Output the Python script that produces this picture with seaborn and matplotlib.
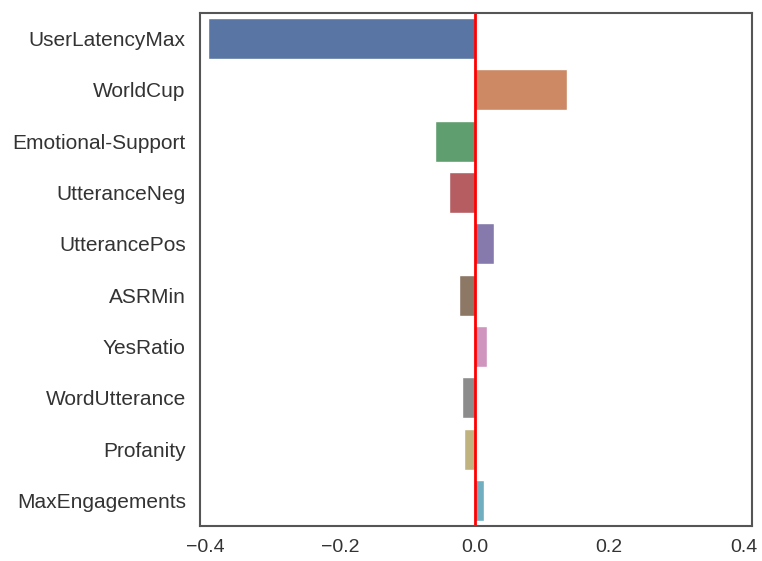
import matplotlib
matplotlib.use("Agg")
import matplotlib.pyplot as plt
import seaborn as sns
import pandas as pd

features = ["UserLatencyMax", "WorldCup", "Emotional-Support", "UtteranceNeg",
            "UtterancePos", "ASRMin", "YesRatio", "WordUtterance", "Profanity",
            "MaxEngagements"]
coefs = [-0.396, 0.138, -0.058, -0.038, 0.029, -0.023, 0.019, -0.018, -0.015, 0.014]

df = pd.DataFrame({"feature": features, "coef": coefs})

sns.set_theme(style="white")
plt.rcParams["font.family"] = ["Liberation Sans", "DejaVu Sans"]

fig = plt.figure(figsize=(7.62, 5.61), dpi=100)
ax = fig.add_axes([0.262, 0.062, 0.725, 0.915])
sns.barplot(data=df, x="coef", y="feature", hue="feature", palette="deep",
            saturation=0.75, legend=False, ax=ax, orient="h")
ax.axvline(0, color="red", lw=2)
ax.set_xlim(-0.408, 0.412)
ax.set_xticks([-0.4, -0.2, 0.0, 0.2, 0.4])
ax.set_xlabel("")
ax.set_ylabel("")
ax.tick_params(axis="y", labelsize=15, colors="#333333", pad=4)
ax.tick_params(axis="x", labelsize=14, colors="#333333", pad=3)
for s in ax.spines.values():
    s.set_color("#555555")
    s.set_linewidth(1.5)
fig.savefig("out.png", dpi=100)
